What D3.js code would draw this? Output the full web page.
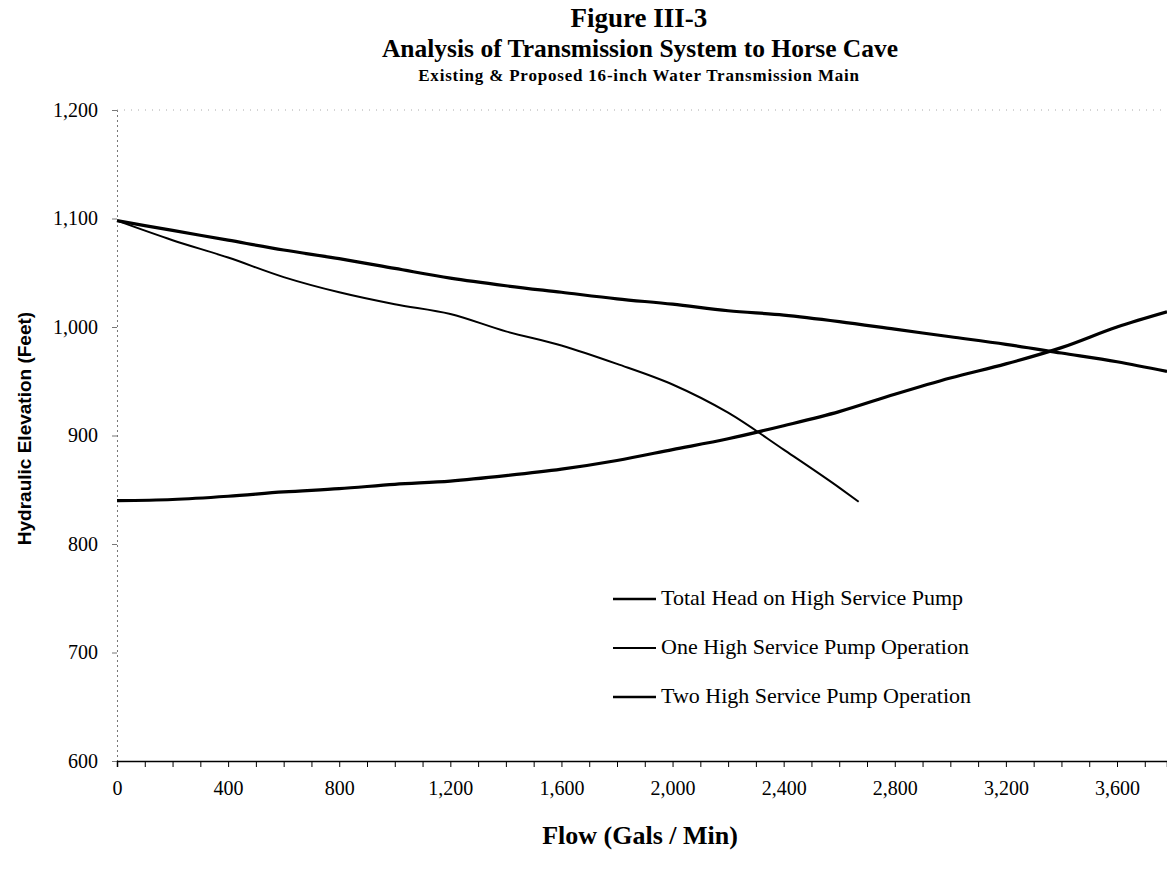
<!DOCTYPE html>
<html>
<head>
<meta charset="utf-8">
<script src="https://cdn.jsdelivr.net/npm/d3@7"></script>
<style>
  body { margin: 0; background: #fff; }
  svg text { font-family: "Liberation Serif", "Times New Roman", serif; fill: #000; }
</style>
</head>
<body>
<div id="chart"></div>
<script>
const flow = [0, 200, 400, 600, 800, 1000, 1200, 1400, 1600, 1800, 2000, 2200, 2400, 2600, 2800, 3000, 3200, 3400, 3600, 3780];
const totalHead = [840, 841, 844, 848, 851, 855, 858, 863, 869, 877, 887, 897, 909, 922, 938, 953, 966, 981, 1000, 1014];
const twoPump = [1098, 1089, 1080, 1071, 1063, 1054, 1045, 1038, 1032, 1026, 1021, 1015, 1011, 1005, 998, 991, 984, 976, 968, 959];
const flowOne = [0, 200, 400, 600, 800, 1000, 1200, 1400, 1600, 1800, 2000, 2200, 2400, 2600, 2670];
const onePump = [1098, 1080, 1064, 1046, 1032, 1021, 1012, 996, 983, 966, 947, 921, 887, 852, 839];

const xTicks = [0, 400, 800, 1200, 1600, 2000, 2400, 2800, 3200, 3600];
const yTicks = [600, 700, 800, 900, 1000, 1100, 1200];
const seriesNames = ["Total Head on High Service Pump", "One High Service Pump Operation", "Two High Service Pump Operation"];

const width = 1167;
const height = 876;
const margin = {top: 110, right: 0, bottom: 115, left: 117};

const x = d3.scaleLinear()
    .domain([0, 3780])
    .range([margin.left, width - margin.right]);

const y = d3.scaleLinear()
    .domain([600, 1200])
    .range([height - margin.bottom, margin.top]);

const svg = d3.select("#chart")
    .append("svg")
    .attr("width", width)
    .attr("height", height);

// titles
svg.append("text").attr("x", 639).attr("y", 27).attr("text-anchor", "middle")
    .attr("font-weight", "bold").attr("font-size", 27).text("Figure III-3");
svg.append("text").attr("x", 640).attr("y", 57).attr("text-anchor", "middle")
    .attr("font-weight", "bold").attr("font-size", 25.5).text("Analysis of Transmission System to Horse Cave");
svg.append("text").attr("x", 639).attr("y", 81).attr("text-anchor", "middle")
    .attr("font-weight", "bold").attr("font-size", 17).attr("letter-spacing", 0.8)
    .text("Existing & Proposed 16-inch Water Transmission Main");

// faint top gridline
svg.append("line")
    .attr("x1", x(0)).attr("x2", width)
    .attr("y1", y(1200)).attr("y2", y(1200))
    .attr("stroke", "#aaa").attr("stroke-dasharray", "1,6");

// y-axis
const yAxis = svg.append("g")
    .attr("transform", `translate(${margin.left},0)`)
    .call(d3.axisLeft(y).tickValues(yTicks).tickFormat(d3.format(",")).tickSize(5));
yAxis.select(".domain").attr("stroke", "#777").attr("stroke-dasharray", "2,3");
yAxis.selectAll(".tick line").attr("stroke", "#777");
yAxis.selectAll("text").attr("font-size", 20).attr("font-family", "Liberation Serif").attr("dx", "-11");

// x-axis
const xAxis = svg.append("g")
    .attr("transform", `translate(0,${height - margin.bottom})`)
    .call(d3.axisBottom(x).tickValues(d3.range(0, 3781, 100)).tickFormat(d => xTicks.includes(d) ? d3.format(",")(d) : "").tickSize(6));
xAxis.select(".domain").attr("stroke", "#000").attr("stroke-width", 1.5);
xAxis.selectAll("text").attr("font-size", 20).attr("font-family", "Liberation Serif").attr("dy", "1.25em");

// axis titles
svg.append("text")
    .attr("transform", `translate(31,${y(900) - 7}) rotate(-90)`)
    .attr("text-anchor", "middle")
    .style("font-family", "Liberation Sans, Arial, sans-serif")
    .attr("font-weight", "bold").attr("font-size", 19)
    .text("Hydraulic Elevation (Feet)");
svg.append("text")
    .attr("x", 640).attr("y", 844).attr("text-anchor", "middle")
    .attr("font-weight", "bold").attr("font-size", 26)
    .text("Flow (Gals / Min)");

// lines
const line = d3.line()
    .x(d => x(d[0]))
    .y(d => y(d[1]))
    .curve(d3.curveMonotoneX);

const series = [
    {pts: d3.zip(flow, totalHead), w: 3.2},
    {pts: d3.zip(flowOne, onePump), w: 2},
    {pts: d3.zip(flow, twoPump), w: 3.2}
];

svg.selectAll(".curve")
    .data(series)
    .join("path")
    .attr("class", "curve")
    .attr("fill", "none")
    .attr("stroke", "#000")
    .attr("stroke-width", d => d.w)
    .attr("d", d => line(d.pts));

// legend
const legend = svg.append("g");
seriesNames.forEach((name, i) => {
    const ly = 599 + i * 49;
    legend.append("line")
        .attr("x1", 613).attr("x2", 656)
        .attr("y1", ly).attr("y2", ly)
        .attr("stroke", "#000").attr("stroke-width", i === 1 ? 2 : 2.6);
    legend.append("text")
        .attr("x", 661).attr("y", ly + 6)
        .attr("font-size", 22)
        .text(name);
});
</script>
</body>
</html>
